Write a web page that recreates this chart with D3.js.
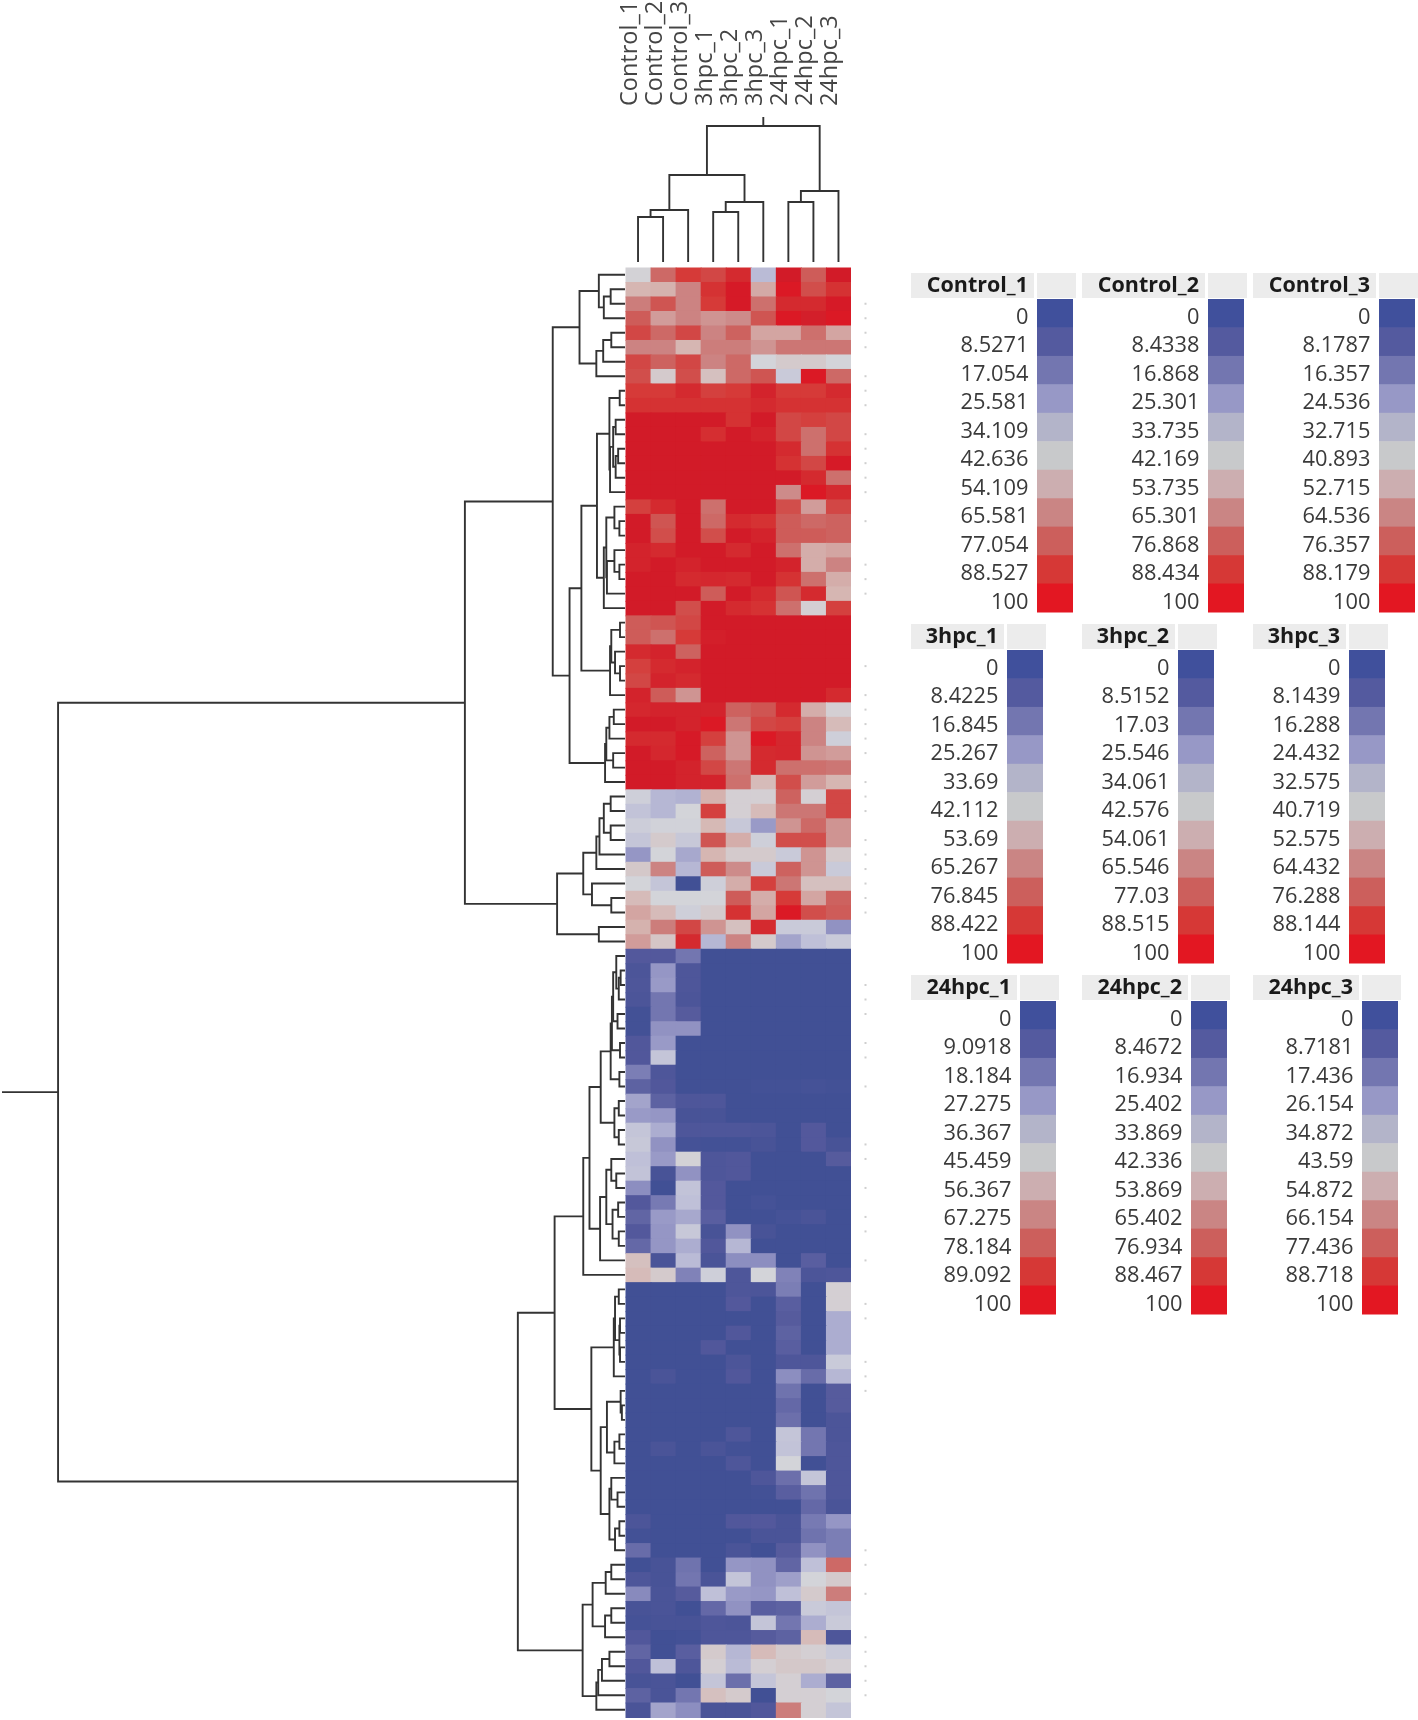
<!DOCTYPE html>
<html><head><meta charset="utf-8">
<script src="https://cdn.jsdelivr.net/npm/d3@7"></script>
<style>html,body{margin:0;background:#fff}svg{display:block;filter:blur(.6px)}text{font-family:"Open Sans",sans-serif}</style>
</head><body><svg id="c" width="1418" height="1720"></svg>
<script>
const samples=["Control_1","Control_2","Control_3","3hpc_1","3hpc_2","3hpc_3","24hpc_1","24hpc_2","24hpc_3"];
const matrix=[
[43,74,88,84,92,33,96,78,96],[54,55,66,90,97,57,98,82,90],[68,80,66,88,97,72,92,92,97],[78,60,66,62,64,80,98,95,98],
[84,74,84,66,76,58,58,72,58],[66,66,54,68,68,62,70,70,70],[84,76,84,66,74,42,46,46,42],[82,46,82,50,74,80,38,98,74],
[88,88,92,86,88,94,88,88,92],[90,90,90,90,90,92,90,90,90],[96,96,96,96,90,96,84,86,84],[96,96,96,91,96,94,84,72,84],
[96,96,96,96,96,96,92,72,90],[96,96,96,96,96,96,90,84,97],[96,96,96,96,96,96,96,92,72],[96,96,96,96,96,96,64,98,92],
[86,92,96,72,96,96,82,60,84],[96,80,96,74,92,90,78,74,76],[96,82,96,82,96,94,78,78,76],[94,92,96,96,92,96,72,56,58],
[94,96,94,96,96,96,94,56,66],[96,96,92,93,92,96,90,72,56],[96,96,96,78,96,92,80,92,54],[96,96,82,96,92,90,72,44,86],
[78,80,84,96,96,96,96,96,96],[78,72,88,95,96,96,96,96,96],[92,94,76,96,96,96,96,96,96],[86,92,94,96,96,96,96,96,96],
[84,94,92,96,96,96,96,96,96],[94,78,62,96,96,96,96,96,92],[93,94,94,94,76,80,92,56,44],[96,96,94,98,70,84,86,66,52],
[92,92,97,86,62,98,93,66,40],[96,93,97,76,62,92,93,62,60],[96,96,94,84,70,92,72,72,70],[96,96,94,94,72,52,82,60,54],
[40,32,31,55,44,44,76,44,84],[35,32,42,86,44,52,70,70,84],[39,41,41,53,37,26,62,74,62],[36,46,37,80,56,40,82,82,62],
[25,42,29,54,46,46,38,62,46],[47,66,32,78,64,38,76,62,38],[42,36,0,40,56,86,70,50,50],[52,42,42,42,78,56,88,58,76],
[58,52,40,46,90,58,98,82,78],[55,68,84,62,50,92,38,38,24],[60,48,92,32,66,46,28,34,38],
[8,8,17,0,0,0,0,0,0],[5,25,6,0,0,0,0,0,0],[6,26,6,0,0,0,0,0,0],[5,17,5,0,0,0,0,0,0],[1,17,9,0,0,0,0,0,0],[1,24,24,0,0,0,0,0,0],
[7,26,0,0,0,0,0,0,0],[7,36,0,0,0,0,0,0,0],[19,6,0,0,0,0,0,0,0],[11,7,0,0,0,1,1,2,1],[28,11,6,6,0,0,0,0,0],[26,25,3,3,0,0,0,0,0],
[36,30,6,6,6,5,0,8,0],[37,24,2,1,1,3,0,8,3],[34,26,43,6,7,0,0,0,9],[35,3,24,6,7,0,0,0,0],[23,0,35,8,0,0,0,0,0],[8,18,34,8,0,2,0,0,0],
[12,26,29,10,0,0,2,4,0],[8,25,37,3,24,3,0,0,0],[13,25,30,7,32,0,0,0,0],[50,4,33,4,23,23,0,10,0],[52,46,20,40,6,42,20,5,6],
[0,0,0,0,6,5,19,0,44],[0,0,0,0,8,0,10,0,44],[0,0,0,0,0,0,9,0,30],[0,0,0,0,7,0,11,0,30],[0,0,0,7,0,0,10,0,30],[0,0,0,0,5,0,6,6,38],
[0,4,0,0,7,0,23,14,32],[0,0,0,0,0,0,16,0,9],[0,0,0,0,0,0,13,0,9],[0,0,0,0,0,0,15,0,5],[0,0,0,0,6,0,36,17,5],[0,4,0,4,1,0,35,17,6],
[0,0,0,0,6,0,42,0,6],[0,0,0,0,0,6,15,36,6],[0,0,0,0,0,1,10,16,6],[0,0,0,0,0,0,0,13,4],[5,0,0,0,7,8,4,18,25],[1,0,0,0,0,4,4,16,19],
[14,0,0,0,4,0,9,24,19],[0,3,16,0,25,24,12,34,74],[6,3,17,4,36,24,27,42,46],[22,4,9,34,26,25,34,46,68],[3,4,0,13,24,10,11,38,36],
[2,3,3,6,5,36,17,30,38],[7,0,1,6,6,9,11,52,6],[12,0,10,46,32,52,46,44,38],[7,34,6,44,33,44,47,47,44],[3,4,0,36,15,36,44,30,11],
[11,4,17,50,46,0,44,44,42],[4,28,23,4,4,7,68,44,36]];
const heatStops=[0,8.5,17,25.5,34,42,54,65.5,77,88.5,96,100];
const heatColors=["#415095","#54599c","#7376b0","#9798c6","#bfc0d8","#d3d4d9","#d6b6b2","#cc8584","#cd5f5c","#d63836","#d21b28","#e31722"];
const legendColors=["#40509c","#545a9f","#7376b0","#9798c6","#b3b4c9","#c8c9cb","#ccaeb0","#ca8584","#cc5f5c","#d63836","#e31722"];
const legendTicks=[
["0","8.5271","17.054","25.581","34.109","42.636","54.109","65.581","77.054","88.527","100"],
["0","8.4338","16.868","25.301","33.735","42.169","53.735","65.301","76.868","88.434","100"],
["0","8.1787","16.357","24.536","32.715","40.893","52.715","64.536","76.357","88.179","100"],
["0","8.4225","16.845","25.267","33.69","42.112","53.69","65.267","76.845","88.422","100"],
["0","8.5152","17.03","25.546","34.061","42.576","54.061","65.546","77.03","88.515","100"],
["0","8.1439","16.288","24.432","32.575","40.719","52.575","64.432","76.288","88.144","100"],
["0","9.0918","18.184","27.275","36.367","45.459","56.367","67.275","78.184","89.092","100"],
["0","8.4672","16.934","25.402","33.869","42.336","53.869","65.402","76.934","88.467","100"],
["0","8.7181","17.436","26.154","34.872","43.59","54.872","66.154","77.436","88.718","100"]];
const rowMarks=[2,3,4,5,7,8,9,11,12,13,14,15,17,20,21,22,27,29,30,31,32,33,35,36,37,39,40,41,42,43,44,49,50,51,53,54,56,60,61,63,65,66,68,71,72,75,76,77,88,89,91,94,95,96,97,98];
// dendrograms: [distance, left, right]; a bare number is a leaf
const rowTree=[91,
 [25.7,
  [11.6,
   [7.3,[4.2,0,[3.4,[2.3,1,2],3]],[4.6,[3.5,[2.2,4,5],6],7]],
   [8.9,
    [7.0,
     [4.5,
      [2.5,[.85,8,9],[2.4,[1.9,[1.5,10,11],[1.5,[1.1,12,13],14]],15]],
      [3.4,[3.0,[1.7,16,[.9,17,18]],[2.9,[1.7,19,[.9,20,21]],22]],23]],
     [2.4,[2.2,[.8,24,25],[1.6,26,[.8,27,28]]],29]],
    [3.2,[3.0,[2.5,[1.8,30,31],32],[1.9,33,34]],35]]],
  [10.9,
   [6.7,[4.6,[4.1,[3.4,[2.3,36,37],[2.3,38,39]],40],41],[5.3,42,[2.2,43,44]]],
   [4.2,45,46]]],
 [17.2,
  [11.3,
   [6.7,
    [5.7,
     [3.9,
      [2.3,[2.1,[1.9,[1.4,47,[1,[.7,48,49],50]],[1.2,51,52]],[.8,53,54]],[.9,55,56]],
      [1.7,[1,57,58],[1,59,60]]],
     [4,[3,[2.2,61,[1.4,62,63]],[2,[1.1,64,65],[1,66,67]]],68]],
    69],
   [5.4,
    [1.8,[1.6,[1,70,71],[.9,[.8,72,73],[.8,74,75]]],76],
    [3.9,
     [2.9,[.7,77,[.5,78,79]],[1.7,[.9,80,81],82]],
     [2.5,[2.2,83,[1.2,84,85]],[1.6,[.9,86,87],88]]]]],
  [6.8,
   [5.2,[3.1,[2.2,89,90],91],[3.2,[2.2,92,93],94]],
   [4.6,[4.3,[3.7,[2.5,95,96],97],98],99]]]];
const colTree=[93.8,[60,[35.9,[31,0,1],2],[41.4,[34.5,3,4],5]],[49,[41.4,6,7],8]];

const svg=d3.select("#c");
const x=d3.scaleBand().domain(d3.range(samples.length)).range([625.5,851]);
const y=d3.scaleBand().domain(d3.range(matrix.length)).range([267.5,1717]);
const color=d3.scaleLinear().domain(heatStops).range(heatColors);
const rowDist=d3.scaleLinear().domain([0,100]).range([625,2]);
const colDist=d3.scaleLinear().domain([0,100]).range([262,117]);

svg.append("g").selectAll("g").data(matrix).join("g").attr("transform",(d,i)=>`translate(0,${y(i)})`)
 .selectAll("rect").data(d=>d).join("rect")
 .attr("x",(d,j)=>x(j)).attr("width",(d,j)=>x.bandwidth()+(j<samples.length-1?1:0))
 .attr("height",y.bandwidth()+1).attr("fill",d=>color(d));

svg.append("g").selectAll("rect").data(rowMarks).join("rect")
 .attr("x",864.5).attr("y",d=>y(d)+y.bandwidth()/2-1).attr("width",2).attr("height",2).attr("fill","#cfcfcf");

function dendro(g,node,leafPos,distPos,horizontal){
  const walk=n=>{
    if(typeof n==="number") return {p:leafPos(n),d:0};
    const a=walk(n[1]),b=walk(n[2]),h=distPos(n[0]);
    const da=a.d?a.h:distPos(0),db=b.d?b.h:distPos(0);
    const path=d3.path();
    if(horizontal){path.moveTo(da,a.p);path.lineTo(h,a.p);path.lineTo(h,b.p);path.lineTo(db,b.p);}
    else{path.moveTo(a.p,da);path.lineTo(a.p,h);path.lineTo(b.p,h);path.lineTo(b.p,db);}
    g.append("path").attr("d",path.toString());
    return {p:(a.p+b.p)/2,d:n[0],h};
  };
  return walk(node);
}
const gR=svg.append("g").attr("fill","none").attr("stroke","#333").attr("stroke-width",1.9);
const rr=dendro(gR,rowTree,i=>y(i)+y.bandwidth()/2,rowDist,true);
gR.append("line").attr("x1",rr.h).attr("x2",rowDist(100)).attr("y1",rr.p).attr("y2",rr.p);
const gC=svg.append("g").attr("fill","none").attr("stroke","#333").attr("stroke-width",1.9);
const rc=dendro(gC,colTree,i=>x(i)+x.bandwidth()/2,colDist,false);
gC.append("line").attr("x1",rc.p).attr("x2",rc.p).attr("y1",rc.h).attr("y2",colDist(100));

svg.append("g").selectAll("text").data(samples).join("text")
 .attr("transform",(d,i)=>`translate(${x(i)+x.bandwidth()/2-1},106) rotate(-90)`)
 .attr("font-size",23.5).attr("fill","#444").text(d=>d);

// legends
const panelCol=d3.scalePoint().domain([0,1,2]).range([911,1253]);
const panelRow=d3.scalePoint().domain([0,1,2]).range([273,975]);
const headW=[123,93,106];
const band=d3.scaleBand().domain(d3.range(11)).range([26,339]);
const tickY=d3.scaleLinear().domain([0,10]).range([51,335.5]);
samples.forEach((s,k)=>{
  const r=Math.floor(k/3),c=k%3,w=headW[r],ticks=legendTicks[k];
  const g=svg.append("g").attr("transform",`translate(${panelCol(c)},${panelRow(r)})`);
  g.append("rect").attr("width",w).attr("height",25).attr("fill","#ececec");
  g.append("rect").attr("x",w+3).attr("width",39).attr("height",25).attr("fill","#ececec");
  g.append("text").attr("x",w-6).attr("y",19).attr("text-anchor","end").attr("font-size",21.5).attr("font-weight",700).attr("fill","#1a1a1a").text(s);
  g.selectAll("rect.s").data(ticks).join("rect").attr("class","s")
   .attr("x",w+3).attr("y",(d,i)=>band(i)).attr("width",36).attr("height",band.bandwidth()+.5)
   .attr("fill",(d,i)=>legendColors[i]);
  g.selectAll("text.t").data(ticks).join("text").attr("class","t")
   .attr("x",w-5.5).attr("y",(d,i)=>tickY(i)).attr("text-anchor","end")
   .attr("font-size",21.8).attr("fill","#3a3a3a").text(d=>d);
});
</script></body></html>
